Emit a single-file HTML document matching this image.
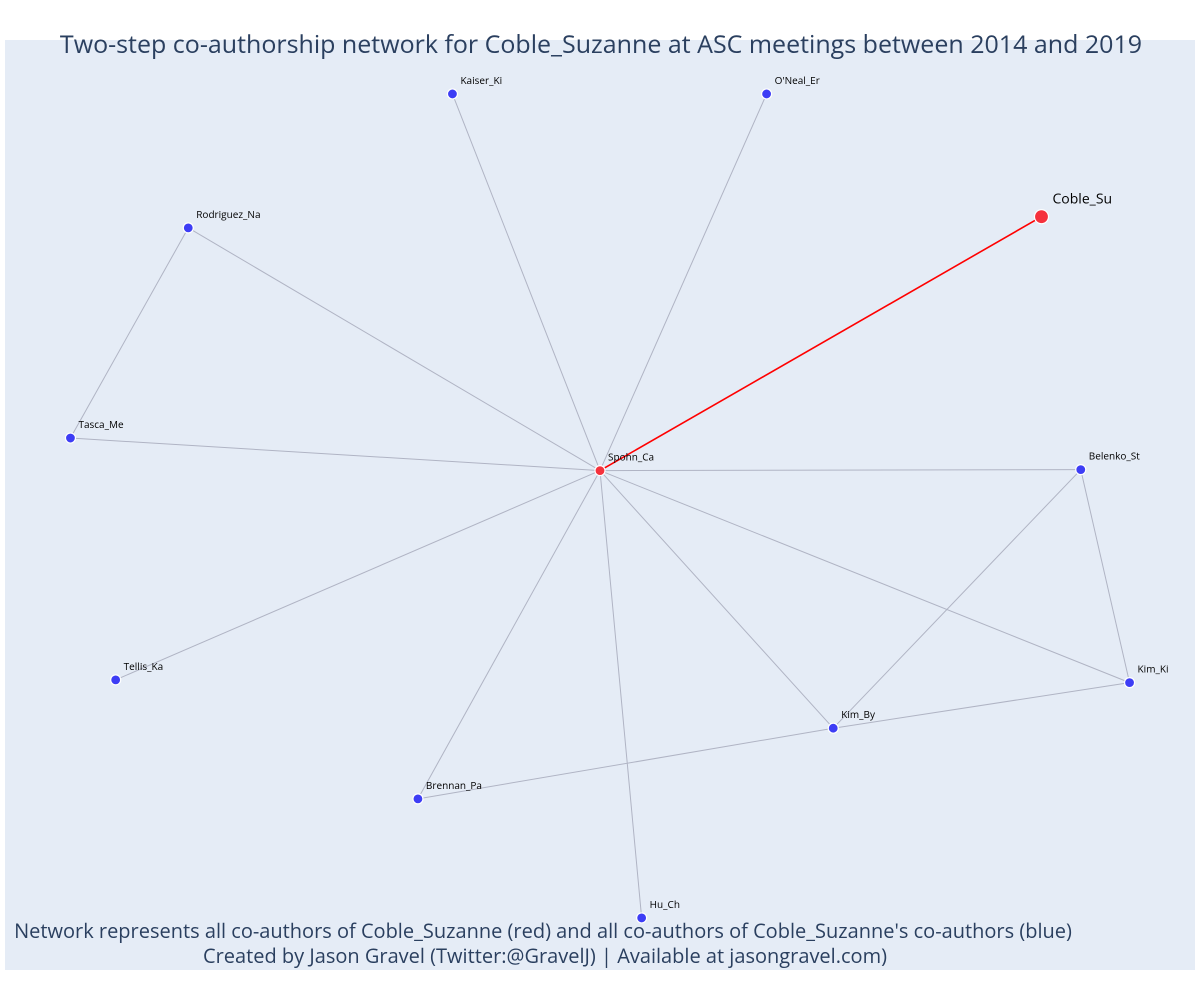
<!DOCTYPE html>
<html><head><meta charset="utf-8"><style>
body{margin:0;background:#fff;}
svg{display:block;font-family:"Open Sans","Liberation Sans","DejaVu Sans",sans-serif;}
</style></head><body>
<svg id="chart" width="1200" height="1000">
<rect x="5" y="40" width="1190" height="930" fill="#e5ecf6"/>
<g id="edges"></g><g id="nodes"></g>
<text x="601" y="53" text-anchor="middle" font-size="25" fill="#2a3f5f">Two-step co-authorship network for Coble_Suzanne at ASC meetings between 2014 and 2019</text>
<text x="543" y="938" text-anchor="middle" font-size="20" fill="#2a3f5f">Network represents all co-authors of Coble_Suzanne (red) and all co-authors of Coble_Suzanne's co-authors (blue)</text>
<text x="545" y="963" text-anchor="middle" font-size="20" fill="#2a3f5f">Created by Jason Gravel (Twitter:@GravelJ) | Available at jasongravel.com)</text>
</svg>
<script>
const names=["Spohn_Ca","Coble_Su","Kaiser_Ki","O'Neal_Er","Rodriguez_Na","Tasca_Me","Belenko_St","Kim_Ki","Kim_By","Brennan_Pa","Tellis_Ka","Hu_Ch"];
const xs=[0.5,0.871,0.376,0.64,0.154,0.055,0.904,0.945,0.696,0.347,0.093,0.535];
const ys=[0.537,0.81,0.942,0.942,0.798,0.572,0.538,0.309,0.26,0.184,0.312,0.056];
const groups=["red","red","blue","blue","blue","blue","blue","blue","blue","blue","blue","blue"];
const edgeFrom=[0,0,0,0,0,0,0,0,0,0,0,4,6,6,7,8];
const edgeTo=[1,2,3,4,5,6,7,8,9,10,11,5,8,7,8,9];
const sx=v=>5+v*1190, sy=v=>970-v*930;
const NS="http://www.w3.org/2000/svg";
const eg=document.getElementById('edges'), ng=document.getElementById('nodes');
for(let i=0;i<edgeFrom.length;i++){
  const a=edgeFrom[i],b=edgeTo[i];
  const l=document.createElementNS(NS,'line');
  l.setAttribute('x1',sx(xs[a]));l.setAttribute('y1',sy(ys[a]));
  l.setAttribute('x2',sx(xs[b]));l.setAttribute('y2',sy(ys[b]));
  const red=(groups[a]==='red'&&groups[b]==='red');
  l.setAttribute('stroke',red?'#ff0000':'#b0b4c4');
  l.setAttribute('stroke-width',red?1.6:1);
  
  
  eg.appendChild(l);
}
for(let i=0;i<names.length;i++){
  const c=document.createElementNS(NS,'circle');
  const big=names[i]==='Coble_Su';
  c.setAttribute('cx',sx(xs[i]));c.setAttribute('cy',sy(ys[i]));
  c.setAttribute('r',big?7:5);
  c.setAttribute('fill',groups[i]==='red'?'#f5313c':'#3d3df5');
  c.setAttribute('stroke','#fff');c.setAttribute('stroke-width',1.2);
  
  
  ng.appendChild(c);
  const t=document.createElementNS(NS,'text');
  t.setAttribute('x',sx(xs[i])+(big?11:8));t.setAttribute('y',sy(ys[i])-(big?13:10));
  t.setAttribute('font-size',big?14:10);t.setAttribute('fill','#000');
  t.textContent=names[i];
  
  
  ng.appendChild(t);
}
</script>
</body></html>
